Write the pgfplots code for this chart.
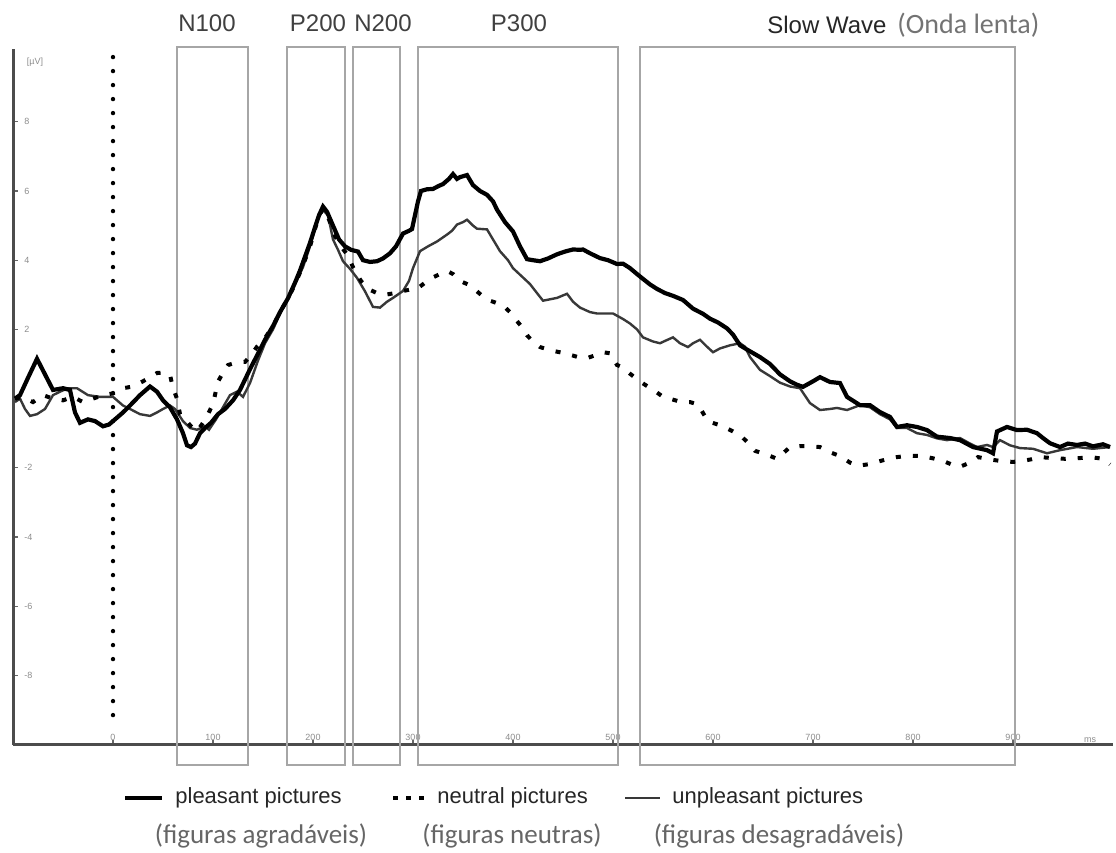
\documentclass[border=0pt]{standalone}
\usepackage{pgfplots}
\pgfplotsset{compat=1.18}
\usepackage{fontspec}
\setmainfont{Liberation Sans}
\newfontfamily\carlito{Carlito}

\pgfplotstableread{
x y
-98 0.0
-93 0.1
-85 0.6
-76 1.15
-68 0.7
-60 0.25
-50 0.3
-43 0.25
-38 -0.4
-33 -0.7
-25 -0.6
-18 -0.65
-10 -0.8
-4 -0.75
4 -0.55
10 -0.4
17 -0.2
27 0.1
37 0.35
44 0.2
50 -0.05
57 -0.25
64 -0.6
70 -1.0
74 -1.35
78 -1.4
82 -1.3
87 -1.0
92 -0.85
98 -0.7
105 -0.45
112 -0.3
120 -0.05
127 0.25
132 0.55
137 0.85
145 1.3
152 1.7
160 2.1
167 2.5
175 2.9
182 3.35
187 3.7
192 4.1
197 4.5
202 4.95
206 5.3
210 5.55
214 5.4
220 5.0
226 4.6
232 4.4
238 4.3
245 4.25
250 4.0
257 3.95
264 3.97
270 4.05
277 4.2
283 4.4
290 4.77
296 4.85
299 4.9
302 5.3
305 5.7
308 6.0
314 6.05
320 6.06
326 6.15
330 6.2
336 6.35
340 6.49
344 6.35
347 6.4
354 6.46
360 6.17
367 6.0
374 5.89
380 5.7
384 5.46
392 5.1
400 4.83
407 4.4
414 4.03
420 4.0
427 3.97
435 4.05
444 4.17
452 4.25
460 4.31
467 4.3
470 4.31
477 4.2
487 4.06
495 4.0
504 3.89
510 3.9
517 3.77
524 3.6
530 3.46
537 3.3
544 3.17
552 3.05
560 2.97
570 2.85
580 2.6
590 2.45
597 2.31
605 2.2
614 2.03
620 1.85
627 1.54
635 1.4
647 1.2
657 1.0
667 0.7
677 0.5
684 0.4
690 0.34
700 0.5
707 0.62
717 0.48
727 0.45
734 0.05
747 -0.19
757 -0.19
767 -0.39
777 -0.53
784 -0.82
794 -0.77
804 -0.82
814 -0.91
824 -1.1
837 -1.14
847 -1.2
860 -1.4
874 -1.49
880 -1.58
884 -0.95
894 -0.82
904 -0.91
914 -0.9
924 -1.0
930 -1.14
937 -1.29
947 -1.4
955 -1.3
964 -1.34
972 -1.3
980 -1.38
990 -1.32
997 -1.4
}\pleasant

\pgfplotstableread{
x y
-98 0.0
-90 0.05
-80 -0.1
-70 0.1
-60 0.0
-50 -0.05
-40 0.05
-30 -0.1
-20 0.0
-10 0.1
0 0.15
10 0.3
20 0.35
30 0.5
44 0.74
50 0.75
57 0.69
60 0.3
64 0.0
67 -0.45
72 -0.6
78 -0.8
84 -0.95
90 -0.7
95 -0.45
100 -0.15
105 0.49
110 0.75
115 0.97
124 1.05
132 1.06
138 1.25
144 1.5
152 1.75
160 2.1
167 2.5
175 2.9
182 3.3
190 3.85
197 4.4
205 5.2
210 5.5
215 5.25
222 4.7
228 4.4
234 4.17
240 3.8
248 3.4
255 3.17
264 3.05
272 3.0
282 3.05
290 3.11
297 3.15
304 3.17
312 3.35
319 3.49
327 3.6
334 3.69
340 3.6
347 3.4
355 3.3
360 3.2
368 3.0
377 2.83
385 2.75
390 2.69
397 2.5
402 2.31
408 2.1
414 1.83
420 1.65
427 1.49
437 1.4
445 1.35
452 1.31
465 1.2
474 1.17
482 1.25
490 1.34
497 1.31
504 0.97
510 0.9
517 0.72
525 0.54
532 0.4
540 0.26
550 0.05
560 -0.03
567 -0.09
577 -0.1
585 -0.17
595 -0.66
605 -0.75
612 -0.83
620 -0.95
629 -1.11
636 -1.3
642 -1.51
654 -1.62
664 -1.74
677 -1.4
687 -1.37
697 -1.38
707 -1.4
717 -1.55
727 -1.66
737 -1.85
745 -1.94
755 -1.9
764 -1.83
774 -1.75
784 -1.69
796 -1.65
809 -1.66
819 -1.72
830 -1.8
840 -1.92
847 -1.97
857 -1.85
865 -1.69
875 -1.75
887 -1.8
900 -1.83
910 -1.8
919 -1.75
927 -1.69
940 -1.72
952 -1.74
965 -1.72
980 -1.7
990 -1.74
997 -1.9
}\neutral

\pgfplotstableread{
x y
-98 -0.1
-93 0.0
-88 -0.3
-83 -0.5
-76 -0.45
-68 -0.3
-60 0.1
-53 0.2
-45 0.3
-36 0.3
-25 0.1
-13 0.05
0 0.05
10 -0.2
17 -0.3
27 -0.45
37 -0.5
44 -0.4
50 -0.3
57 -0.2
62 -0.3
70 -0.65
77 -0.85
84 -0.9
92 -0.8
96 -0.9
103 -0.6
110 -0.25
117 0.1
124 0.2
130 0.05
137 0.45
145 1.1
152 1.6
160 2.0
167 2.45
175 2.9
182 3.3
190 3.8
197 4.4
205 5.2
210 5.45
215 5.3
220 4.6
225 4.3
230 3.97
237 3.75
244 3.49
252 3.1
260 2.65
267 2.63
274 2.8
280 2.91
290 3.11
296 3.4
300 3.77
307 4.26
315 4.4
324 4.54
334 4.74
339 4.85
344 5.03
350 5.1
354 5.17
360 5.0
364 4.91
374 4.89
380 4.6
387 4.26
395 4.0
400 3.77
410 3.5
417 3.31
424 3.05
430 2.83
437 2.87
444 2.91
454 3.03
460 2.8
467 2.63
477 2.5
484 2.46
492 2.46
500 2.46
510 2.3
517 2.17
524 2.0
530 1.77
540 1.65
547 1.6
553 1.68
560 1.77
567 1.6
575 1.49
580 1.6
587 1.7
594 1.5
600 1.34
607 1.45
617 1.54
627 1.6
632 1.5
637 1.2
647 0.83
657 0.65
667 0.46
677 0.35
687 0.3
697 -0.13
707 -0.33
717 -0.3
724 -0.27
734 -0.33
747 -0.19
757 -0.25
767 -0.45
777 -0.6
784 -0.85
794 -0.85
804 -1.0
814 -1.05
824 -1.15
834 -1.2
847 -1.14
857 -1.3
864 -1.4
874 -1.34
880 -1.4
887 -1.2
897 -1.35
907 -1.43
920 -1.45
934 -1.58
947 -1.49
964 -1.4
980 -1.45
997 -1.4
}\unpleasant

\begin{document}
\begin{tikzpicture}
\begin{axis}[
  scale only axis,
  width=550pt, height=347.75pt,
  xmin=-100, xmax=1000,
  ymin=-10, ymax=10.1,
  axis x line=bottom, axis y line=left,
  axis line style={-, line width=1.5pt, color=black!70},
  clip=false,
  xtick={0,100,...,900},
  ytick={-8,-6,-4,-2,2,4,6,8},
  tick align=inside,
  major tick length=2.5pt,
  tick style={black!60, line width=0.6pt},
  /pgf/number format/assume math mode=true,
  ticklabel style={font=\fontsize{4.5}{5}\selectfont, color=black!45, inner sep=0pt},
  xticklabel style={anchor=south, yshift=2pt},
  yticklabel style={anchor=west, xshift=5.5pt},
]
% component windows
\begin{scope}[draw=black!35, line width=0.9pt]
\draw (axis cs:64,10.16) rectangle (axis cs:135,-10.6);
\draw (axis cs:174,10.16) rectangle (axis cs:232,-10.6);
\draw (axis cs:240,10.16) rectangle (axis cs:287,-10.6);
\draw (axis cs:305,10.16) rectangle (axis cs:505,-10.6);
\draw (axis cs:527,10.16) rectangle (axis cs:902,-10.6);
\end{scope}
% stimulus onset
\draw[line width=2.2pt, dash pattern=on 0pt off 7pt, line cap=round] (axis cs:0,9.87) -- (axis cs:0,-9.4);

\addplot[no marks, line width=1.2pt, color=black!78] table[x=x,y=y] {\unpleasant};
\addplot[no marks, line width=2pt, color=black, dash pattern=on 2.5pt off 6pt] table[x=x,y=y] {\neutral};
\addplot[no marks, line width=2.1pt, color=black] table[x=x,y=y] {\pleasant};

% labels
\node[anchor=base, inner sep=0, font=\fontsize{12}{14}\selectfont, text=black!75] at (axis cs:94,10.62) {N100};
\node[anchor=base, inner sep=0, font=\fontsize{12}{14}\selectfont, text=black!75] at (axis cs:205,10.62) {P200};
\node[anchor=base, inner sep=0, font=\fontsize{12}{14}\selectfont, text=black!75] at (axis cs:270,10.62) {N200};
\node[anchor=base, inner sep=0, font=\fontsize{12}{14}\selectfont, text=black!75] at (axis cs:406,10.62) {P300};
\node[anchor=base west, inner sep=0, font=\fontsize{12}{14}\selectfont, text=black!85] at (axis cs:654,10.56) {Slow Wave};
\node[anchor=base west, inner sep=0, font=\carlito\fontsize{14}{16}\selectfont, text=black!55] at (axis cs:784,10.56) {(Onda lenta)};

\node[anchor=south, inner sep=0, font=\fontsize{4.5}{5}\selectfont, text=black!45] at (axis cs:977,-9.94) {ms};
\node[anchor=center, inner sep=0, font=\fontsize{4.5}{5}\selectfont, text=black!45] at (axis cs:-78,9.73) {[µV]};

% legend
\draw[line width=2.1pt] (axis cs:12,-11.55) -- (axis cs:49,-11.55);
\node[anchor=base west, inner sep=0, font=\fontsize{11}{13}\selectfont, text=black!85] at (axis cs:62,-11.69) {pleasant pictures};
\draw[line width=2pt, dash pattern=on 2.5pt off 4pt] (axis cs:280,-11.55) -- (axis cs:317,-11.55);
\node[anchor=base west, inner sep=0, font=\fontsize{11}{13}\selectfont, text=black!85] at (axis cs:324,-11.69) {neutral pictures};
\draw[line width=1.2pt, color=black!78] (axis cs:512,-11.55) -- (axis cs:547,-11.55);
\node[anchor=base west, inner sep=0, font=\fontsize{11}{13}\selectfont, text=black!85] at (axis cs:559,-11.69) {unpleasant pictures};

\node[anchor=base, inner sep=0, font=\carlito\fontsize{13.5}{15}\selectfont, text=black!60] at (axis cs:148,-12.85) {(figuras agradáveis)};
\node[anchor=base, inner sep=0, font=\carlito\fontsize{13.5}{15}\selectfont, text=black!60] at (axis cs:399,-12.85) {(figuras neutras)};
\node[anchor=base, inner sep=0, font=\carlito\fontsize{13.5}{15}\selectfont, text=black!60] at (axis cs:666,-12.85) {(figuras desagradáveis)};

\coordinate (BL) at (axis cs:-113,-13.11);
\coordinate (TR) at (axis cs:1003,11.52);
\end{axis}
\pgfresetboundingbox
\useasboundingbox (BL) rectangle (TR);
\end{tikzpicture}
\end{document}
